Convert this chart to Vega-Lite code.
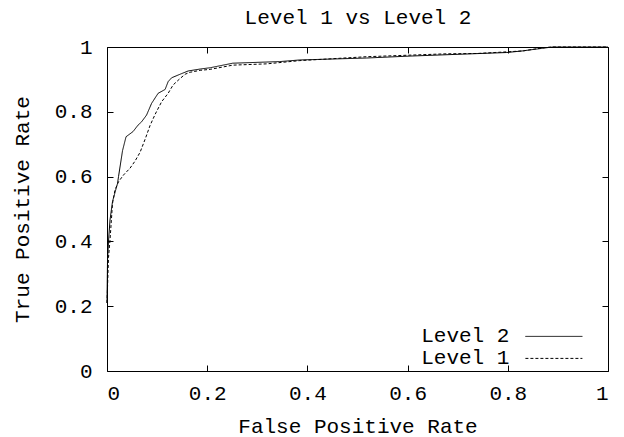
{
  "$schema": "https://vega.github.io/schema/vega-lite/v6.json",
  "autosize": {"type": "none"},
  "width": 501,
  "height": 324,
  "padding": {"left": 107, "top": 47, "right": 16, "bottom": 66},
  "background": "white",
  "config": {
    "view": {"stroke": "black", "strokeWidth": 1},
    "axis": {"grid": false, "domain": false, "tickSize": -6, "tickColor": "black", "tickWidth": 1, "labelFont": "Liberation Mono", "labelFontSize": 21, "labelColor": "black", "titleFont": "Liberation Mono", "titleFontSize": 21, "titleFontWeight": "normal", "titleColor": "black", "format": "~g", "tickCount": 6, "values": [0, 0.2, 0.4, 0.6, 0.8, 1]}
  },
  "data": {"values": [
    {"series": "Level 2", "fpr": 0, "tpr": 0.21},
    {"series": "Level 2", "fpr": 0.001, "tpr": 0.34},
    {"series": "Level 2", "fpr": 0.003, "tpr": 0.40},
    {"series": "Level 2", "fpr": 0.006, "tpr": 0.466},
    {"series": "Level 2", "fpr": 0.011, "tpr": 0.523},
    {"series": "Level 2", "fpr": 0.021, "tpr": 0.579},
    {"series": "Level 2", "fpr": 0.023, "tpr": 0.60},
    {"series": "Level 2", "fpr": 0.031, "tpr": 0.68},
    {"series": "Level 2", "fpr": 0.038, "tpr": 0.723},
    {"series": "Level 2", "fpr": 0.052, "tpr": 0.739},
    {"series": "Level 2", "fpr": 0.062, "tpr": 0.759},
    {"series": "Level 2", "fpr": 0.069, "tpr": 0.769},
    {"series": "Level 2", "fpr": 0.079, "tpr": 0.790},
    {"series": "Level 2", "fpr": 0.089, "tpr": 0.826},
    {"series": "Level 2", "fpr": 0.102, "tpr": 0.857},
    {"series": "Level 2", "fpr": 0.116, "tpr": 0.869},
    {"series": "Level 2", "fpr": 0.122, "tpr": 0.893},
    {"series": "Level 2", "fpr": 0.129, "tpr": 0.905},
    {"series": "Level 2", "fpr": 0.146, "tpr": 0.916},
    {"series": "Level 2", "fpr": 0.162, "tpr": 0.926},
    {"series": "Level 2", "fpr": 0.186, "tpr": 0.932},
    {"series": "Level 2", "fpr": 0.206, "tpr": 0.936},
    {"series": "Level 2", "fpr": 0.251, "tpr": 0.950},
    {"series": "Level 2", "fpr": 0.345, "tpr": 0.955},
    {"series": "Level 2", "fpr": 0.385, "tpr": 0.960},
    {"series": "Level 2", "fpr": 0.518, "tpr": 0.966},
    {"series": "Level 2", "fpr": 0.605, "tpr": 0.972},
    {"series": "Level 2", "fpr": 0.798, "tpr": 0.983},
    {"series": "Level 2", "fpr": 0.830, "tpr": 0.988},
    {"series": "Level 2", "fpr": 0.844, "tpr": 0.991},
    {"series": "Level 2", "fpr": 0.884, "tpr": 0.999},
    {"series": "Level 2", "fpr": 0.89, "tpr": 1},
    {"series": "Level 2", "fpr": 1, "tpr": 1},
    {"series": "Level 1", "fpr": 0, "tpr": 0.21},
    {"series": "Level 1", "fpr": 0.003, "tpr": 0.35},
    {"series": "Level 1", "fpr": 0.006, "tpr": 0.404},
    {"series": "Level 1", "fpr": 0.011, "tpr": 0.517},
    {"series": "Level 1", "fpr": 0.016, "tpr": 0.559},
    {"series": "Level 1", "fpr": 0.023, "tpr": 0.584},
    {"series": "Level 1", "fpr": 0.033, "tpr": 0.605},
    {"series": "Level 1", "fpr": 0.046, "tpr": 0.626},
    {"series": "Level 1", "fpr": 0.056, "tpr": 0.648},
    {"series": "Level 1", "fpr": 0.066, "tpr": 0.675},
    {"series": "Level 1", "fpr": 0.076, "tpr": 0.715},
    {"series": "Level 1", "fpr": 0.086, "tpr": 0.758},
    {"series": "Level 1", "fpr": 0.096, "tpr": 0.792},
    {"series": "Level 1", "fpr": 0.109, "tpr": 0.831},
    {"series": "Level 1", "fpr": 0.122, "tpr": 0.857},
    {"series": "Level 1", "fpr": 0.132, "tpr": 0.883},
    {"series": "Level 1", "fpr": 0.146, "tpr": 0.903},
    {"series": "Level 1", "fpr": 0.156, "tpr": 0.916},
    {"series": "Level 1", "fpr": 0.166, "tpr": 0.922},
    {"series": "Level 1", "fpr": 0.186, "tpr": 0.928},
    {"series": "Level 1", "fpr": 0.206, "tpr": 0.931},
    {"series": "Level 1", "fpr": 0.251, "tpr": 0.944},
    {"series": "Level 1", "fpr": 0.319, "tpr": 0.948},
    {"series": "Level 1", "fpr": 0.385, "tpr": 0.958},
    {"series": "Level 1", "fpr": 0.518, "tpr": 0.970},
    {"series": "Level 1", "fpr": 0.678, "tpr": 0.979},
    {"series": "Level 1", "fpr": 0.738, "tpr": 0.980},
    {"series": "Level 1", "fpr": 0.798, "tpr": 0.985},
    {"series": "Level 1", "fpr": 0.831, "tpr": 0.988},
    {"series": "Level 1", "fpr": 0.851, "tpr": 0.993},
    {"series": "Level 1", "fpr": 0.878, "tpr": 0.999},
    {"series": "Level 1", "fpr": 0.89, "tpr": 1},
    {"series": "Level 1", "fpr": 1, "tpr": 1}
  ]},
  "layer": [
    {
      "mark": {"type": "line", "strokeWidth": 1, "interpolate": "linear"},
      "encoding": {
        "x": {"field": "fpr", "type": "quantitative", "scale": {"domain": [0, 1], "nice": false, "zero": false},
              "axis": {"orient": "bottom", "title": "False Positive Rate", "labelPadding": 17, "labelBaseline": "top", "titleX": 250.5, "titleY": 61, "titleBaseline": "alphabetic", "titleAnchor": null}},
        "y": {"field": "tpr", "type": "quantitative", "scale": {"domain": [0, 1], "nice": false, "zero": false},
              "axis": {"orient": "left", "title": "True Positive Rate", "labelPadding": 21, "labelBaseline": "middle", "titleX": -79, "titleY": 162, "titleAngle": -90, "titleAlign": "center", "titleBaseline": "alphabetic"}},
        "color": {"field": "series", "type": "nominal", "scale": {"domain": ["Level 2", "Level 1"], "range": ["black", "black"]},
                  "legend": {"title": null, "orient": "none", "legendX": 436.4, "legendY": 278.9, "symbolType": "M-4,0H4", "symbolSize": 203, "symbolStrokeWidth": 1, "symbolFillColor": "transparent", "labelFont": "Liberation Mono", "labelFontSize": 21, "labelColor": "black", "labelAlign": "right", "labelOffset": -55, "rowPadding": 0, "padding": 0}},
        "strokeDash": {"field": "series", "type": "nominal", "scale": {"domain": ["Level 2", "Level 1"], "range": [[1, 0], [3, 2]]},
                  "legend": {"title": null, "orient": "none", "legendX": 436.4, "legendY": 278.9, "symbolType": "M-4,0H4", "symbolSize": 203, "symbolStrokeWidth": 1, "symbolFillColor": "transparent", "labelFont": "Liberation Mono", "labelFontSize": 21, "labelColor": "black", "labelAlign": "right", "labelOffset": -55, "rowPadding": 0, "padding": 0}},
        "order": [{"field": "fpr", "type": "quantitative"}, {"field": "tpr", "type": "quantitative"}]
      }
    },
    {
      "mark": {"type": "line", "strokeOpacity": 0},
      "encoding": {
        "x": {"field": "fpr", "type": "quantitative", "axis": {"orient": "top", "labels": false, "title": "Level 1 vs Level 2", "titleX": 250.5, "titleY": -24, "titleBaseline": "alphabetic", "titleAlign": "center", "titleAnchor": null}},
        "y": {"field": "tpr", "type": "quantitative", "axis": {"orient": "right", "labels": false, "title": null}},
        "detail": {"field": "series"}
      }
    }
  ],
  "resolve": {"axis": {"x": "independent", "y": "independent"}}
}
